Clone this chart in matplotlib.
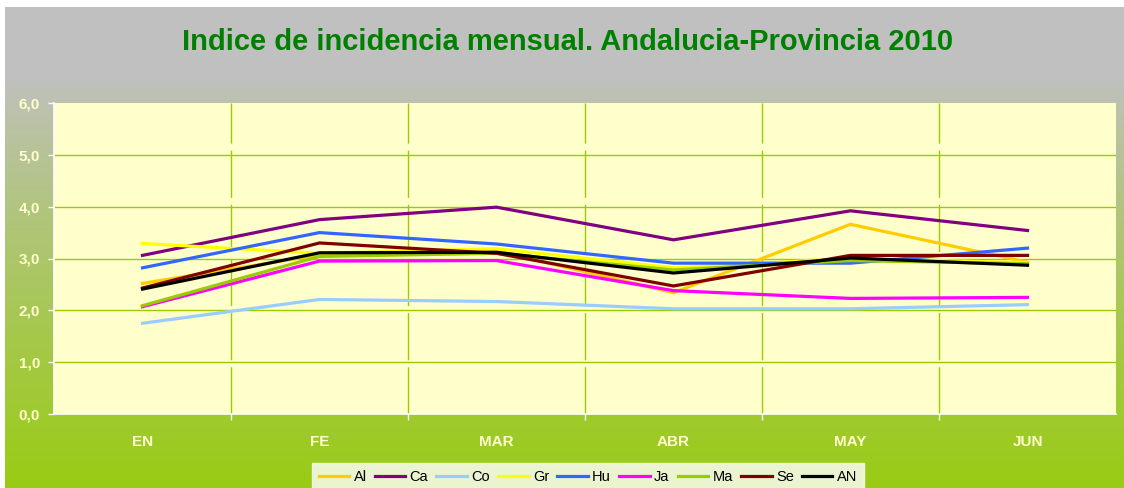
import matplotlib
matplotlib.use("Agg")
import matplotlib.pyplot as plt
import numpy as np

months = ["EN", "FE", "MAR", "ABR", "MAY", "JUN"]

al = [2.52, 3.07, 3.15, 2.34, 3.66, 2.93]
ca = [3.06, 3.75, 3.99, 3.36, 3.92, 3.54]
co = [1.75, 2.21, 2.17, 2.03, 2.03, 2.11]
gr = [3.29, 3.10, 3.19, 2.82, 3.00, 2.92]
hu = [2.82, 3.50, 3.28, 2.91, 2.91, 3.20]
ja = [2.07, 2.95, 2.96, 2.38, 2.23, 2.25]
ma = [2.09, 3.04, 3.10, 2.78, 2.96, 2.90]
se = [2.43, 3.30, 3.10, 2.47, 3.06, 3.06]
an = [2.41, 3.11, 3.12, 2.72, 3.01, 2.87]

names = ["Al", "Ca", "Co", "Gr", "Hu", "Ja", "Ma", "Se", "AN"]
series = [al, ca, co, gr, hu, ja, ma, se, an]
colors = ["#ffcc00", "#800080", "#99ccff", "#ffff00", "#3366ff",
          "#ff00ff", "#99cc00", "#800000", "#000000"]

plt.rcParams["font.family"] = ["Liberation Sans", "DejaVu Sans"]

fig = plt.figure(figsize=(11.24, 4.88), dpi=100)
fig.patch.set_facecolor("white")

# gray -> green gradient background
bg = fig.add_axes([5 / 1124, 0, 1 - 5 / 1124, 481 / 488], zorder=-10)
t = np.linspace(0, 1, 256)[:, None]
top = np.array([192, 192, 192]) / 255
bottom = np.array([153, 204, 20]) / 255
w = np.clip((t - 0.15) / 0.85, 0, 1) ** 0.85
grad = top[None, None, :] * (1 - w[:, :, None]) + bottom[None, None, :] * w[:, :, None]
bg.imshow(grad, aspect="auto", extent=[0, 1, 0, 1])
bg.axis("off")

ax = fig.add_axes([54 / 1124, 1 - 414 / 488, (1116 - 54) / 1124, (414 - 103) / 488])
ax.set_facecolor("#ffffcc")

x = np.arange(len(months))
for name, vals, c in zip(names, series, colors):
    ax.plot(x, vals, color=c, lw=2.3, label=name, solid_joinstyle="miter")

ax.set_xlim(-0.5, len(months) - 0.5)
ax.set_ylim(0, 6)
ax.set_yticks(np.arange(0, 7, 1))
ax.set_yticklabels([f"{v:.1f}".replace(".", ",") for v in range(7)])
ax.set_xticks(x)
ax.set_xticklabels(months)
ax.set_xticks(np.arange(0.5, len(months) - 0.5, 1), minor=True)

for v in range(1, 6):
    ax.axhline(v, color="#99cc00", lw=1.0, zorder=0)
for b in np.arange(0.5, len(months) - 0.5, 1):
    ax.axvline(b, color="#99cc00", lw=1.0, ls=(0, (34, 5)), zorder=0)

for s in ["top", "right"]:
    ax.spines[s].set_visible(False)
for s in ["left", "bottom"]:
    ax.spines[s].set_color("white")
    ax.spines[s].set_linewidth(1.2)

ax.tick_params(axis="y", colors="white", length=4, width=1, labelcolor="#ffffcc",
               labelsize=11, pad=6)
ax.tick_params(axis="x", which="major", length=0, labelcolor="#ffffcc",
               labelsize=11, pad=15)
ax.tick_params(axis="x", which="minor", colors="white", length=4, width=1)
for lab in ax.get_xticklabels() + ax.get_yticklabels():
    lab.set_fontweight("bold")

fig.text(0.505, 0.913, "Indice de incidencia mensual. Andalucia-Provincia 2010",
         ha="center", va="center", fontsize=21, fontweight="bold", color="#008000")

leg = fig.legend(loc="lower center", bbox_to_anchor=(0.523, -0.02), ncol=9,
                 fontsize=10.5, frameon=True, fancybox=False, handlelength=2.1,
                 handletextpad=0.3, columnspacing=0.55, borderpad=0.45)
leg.get_frame().set_facecolor("white")
leg.get_frame().set_edgecolor("white")

fig.savefig("out.png", dpi=100)
